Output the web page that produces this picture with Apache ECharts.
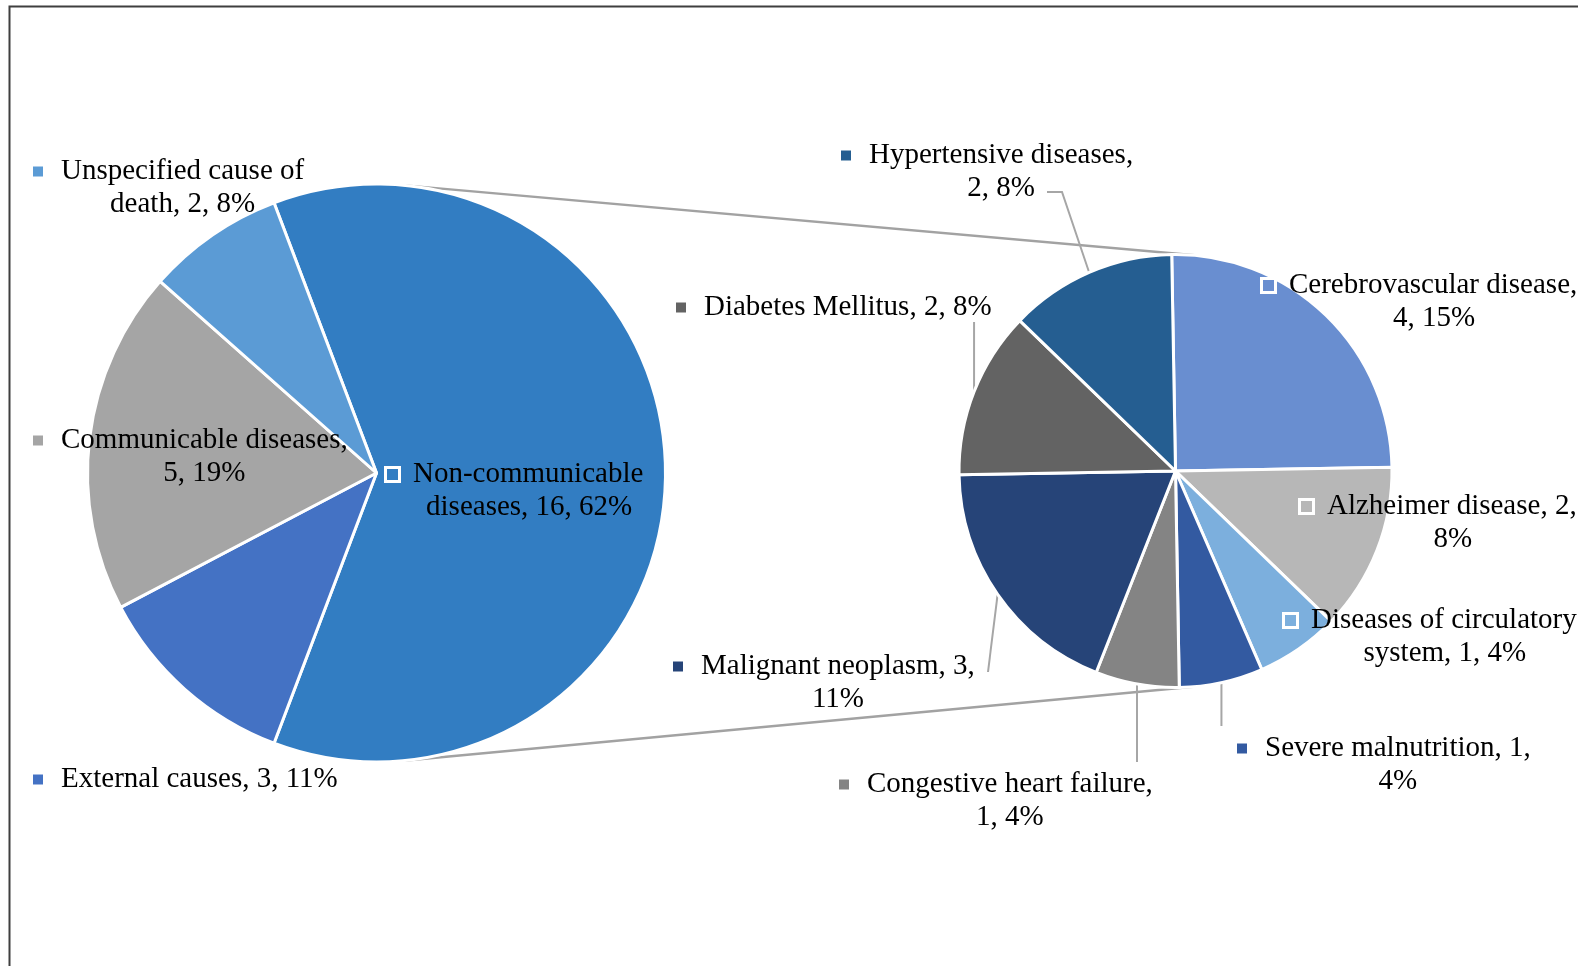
<!DOCTYPE html>
<html>
<head>
<meta charset="utf-8">
<title>Causes of death - pie of pie</title>
<script src="https://cdn.jsdelivr.net/npm/echarts@6/dist/echarts.min.js"></script>
<style>
  html, body { margin: 0; padding: 0; background: #fff; }
  #chart { width: 1578px; height: 966px; }
</style>
</head>
<body>
<div id="chart"></div>
<script>
// main pie: all causes of death
const mainNames = ['Non-communicable diseases', 'External causes', 'Communicable diseases', 'Unspecified cause of death'];
const mainValues = [16, 3, 5, 2];
const mainPercents = [62, 11, 19, 8];

// second pie: split of non-communicable diseases
const subNames = ['Cerebrovascular disease', 'Alzheimer disease', 'Diseases of circulatory system', 'Severe malnutrition',
  'Congestive heart failure', 'Malignant neoplasm', 'Diabetes Mellitus', 'Hypertensive diseases'];
const subValues = [4, 2, 1, 1, 1, 3, 2, 2];
const subPercents = [15, 8, 4, 4, 4, 11, 8, 8];

// styling
const mainColors = ['#327dc2', '#4472c4', '#a5a5a5', '#5b9bd5'];
const subColors = ['#698ed0', '#b7b7b7', '#7cafdd', '#335aa1', '#848484', '#264478', '#636363', '#255e91'];
const mainBoxed = [true, false, false, false];
const subBoxed = [true, true, true, false, false, false, false, false];
// words on the first label line (0 = no wrap)
const mainWrap = [1, 0, 2, 3];
const subWrap = [2, 3, 3, 3, 3, 3, 0, 2];

const FONT = "'Liberation Serif', 'Times New Roman', serif";
const C1 = [376.5, 473], R1 = 289;
const C2 = [1175.5, 471], R2 = 216.5;

// label boxes (left of key, top of block) and leader lines
const mainLabelPos = [
  { x: 387, y: 458 },
  { x: 33, y: 763 },
  { x: 33, y: 424 },
  { x: 33, y: 155 }
];
const subLabelPos = [
  { x: 1263, y: 269 },
  { x: 1301, y: 490 },
  { x: 1285, y: 604 },
  { x: 1237, y: 732, line: [[null, 726]] },
  { x: 839, y: 768, line: [[null, 762]] },
  { x: 673, y: 650, line: [[988, 672]] },
  { x: 676, y: 291, line: [[null, 322]] },
  { x: 841, y: 139, line: [[1047, 192], [1062, 192]] }
];

function richFor(color, boxed) {
  return {
    m: boxed
      ? { width: 11, height: 11, backgroundColor: color, borderColor: '#fff', borderWidth: 3, align: 'center' }
      : { width: 10, height: 10, backgroundColor: color, align: 'center' },
    g: { width: boxed ? 15 : 18, align: 'center' },
    t: { fontFamily: FONT, fontSize: 29, lineHeight: 33, color: '#000', align: 'center' },
    u: { fontFamily: FONT, fontSize: 29, lineHeight: 33, color: '#000', align: 'center', padding: [0, 0, 0, 28] }
  };
}

function buildItems(names, values, colors, boxed, lined) {
  return names.map(function (n, i) {
    return {
      name: n,
      value: values[i],
      itemStyle: { color: colors[i] },
      labelLine: { show: !!lined[i] },
      label: { rich: richFor(colors[i], boxed[i]) }
    };
  });
}

function makeFormatter(names, values, pcts, wraps) {
  return function (p) {
    const i = p.dataIndex;
    const words = (names[i] + ', ' + values[i] + ', ' + pcts[i] + '%').split(' ');
    if (!wraps[i]) return '{m|}{g|}{t|' + words.join(' ') + '}';
    return '{m|}{g|}{t|' + words.slice(0, wraps[i]).join(' ') + '}\n{u|' + words.slice(wraps[i]).join(' ') + '}';
  };
}

function makeLayout(posList) {
  return function (p) {
    const pos = posList[p.dataIndex];
    const out = { x: pos.x, y: pos.y, align: 'left', verticalAlign: 'top' };
    if (pos.line && p.labelLinePoints) {
      const edge = p.labelLinePoints[0];
      const pts = pos.line.map(function (q) { return [q[0] == null ? edge[0] : q[0], q[1]]; });
      pts.push([edge[0], edge[1]]);
      out.labelLinePoints = pts;
    }
    return out;
  };
}

// common outer tangents between the two pies
function tangents() {
  const dx = C2[0] - C1[0], dy = C2[1] - C1[1];
  const d = Math.sqrt(dx * dx + dy * dy);
  const ux = dx / d, uy = dy / d;
  const s = (R1 - R2) / d, c = Math.sqrt(1 - s * s);
  const res = [];
  [[uy, -ux], [-uy, ux]].forEach(function (v) {
    const nx = s * ux + c * v[0], ny = s * uy + c * v[1];
    res.push([C1[0] + R1 * nx, C1[1] + R1 * ny, C2[0] + R2 * nx, C2[1] + R2 * ny]);
  });
  return res;
}

const chart = echarts.init(document.getElementById('chart'));
const lines = tangents();

chart.setOption({
  backgroundColor: '#fff',
  animation: false,
  graphic: [
    {
      type: 'rect', z: -10,
      shape: { x: 9.5, y: 6.5, width: 1600, height: 1000 },
      style: { fill: 'none', stroke: '#3f3f3f', lineWidth: 2 }
    }
  ].concat(lines.map(function (l) {
    return {
      type: 'line', z: -5,
      shape: { x1: l[0], y1: l[1], x2: l[2], y2: l[3] },
      style: { stroke: '#a2a2a2', lineWidth: 2.5 }
    };
  })),
  series: [
    {
      type: 'pie',
      center: C1,
      radius: R1,
      startAngle: 180 * mainValues[0] / mainValues.reduce(function (a, b) { return a + b; }, 0),
      clockwise: true,
      avoidLabelOverlap: false,
      itemStyle: { borderColor: '#fff', borderWidth: 3 },
      label: {
        show: true,
        position: 'outside',
        formatter: makeFormatter(mainNames, mainValues, mainPercents, mainWrap)
      },
      labelLine: { show: false },
      labelLayout: makeLayout(mainLabelPos),
      emphasis: { disabled: true },
      data: buildItems(mainNames, mainValues, mainColors, mainBoxed, [])
    },
    {
      type: 'pie',
      center: C2,
      radius: R2,
      startAngle: 91,
      clockwise: true,
      avoidLabelOverlap: false,
      itemStyle: { borderColor: '#fff', borderWidth: 3 },
      label: {
        show: true,
        position: 'outside',
        formatter: makeFormatter(subNames, subValues, subPercents, subWrap)
      },
      labelLine: { show: true, length: 10, length2: 10, lineStyle: { color: '#a6a6a6', width: 2 } },
      labelLayout: makeLayout(subLabelPos),
      emphasis: { disabled: true },
      data: buildItems(subNames, subValues, subColors, subBoxed,
        subLabelPos.map(function (q) { return !!q.line; }))
    }
  ]
});
</script>
</body>
</html>
